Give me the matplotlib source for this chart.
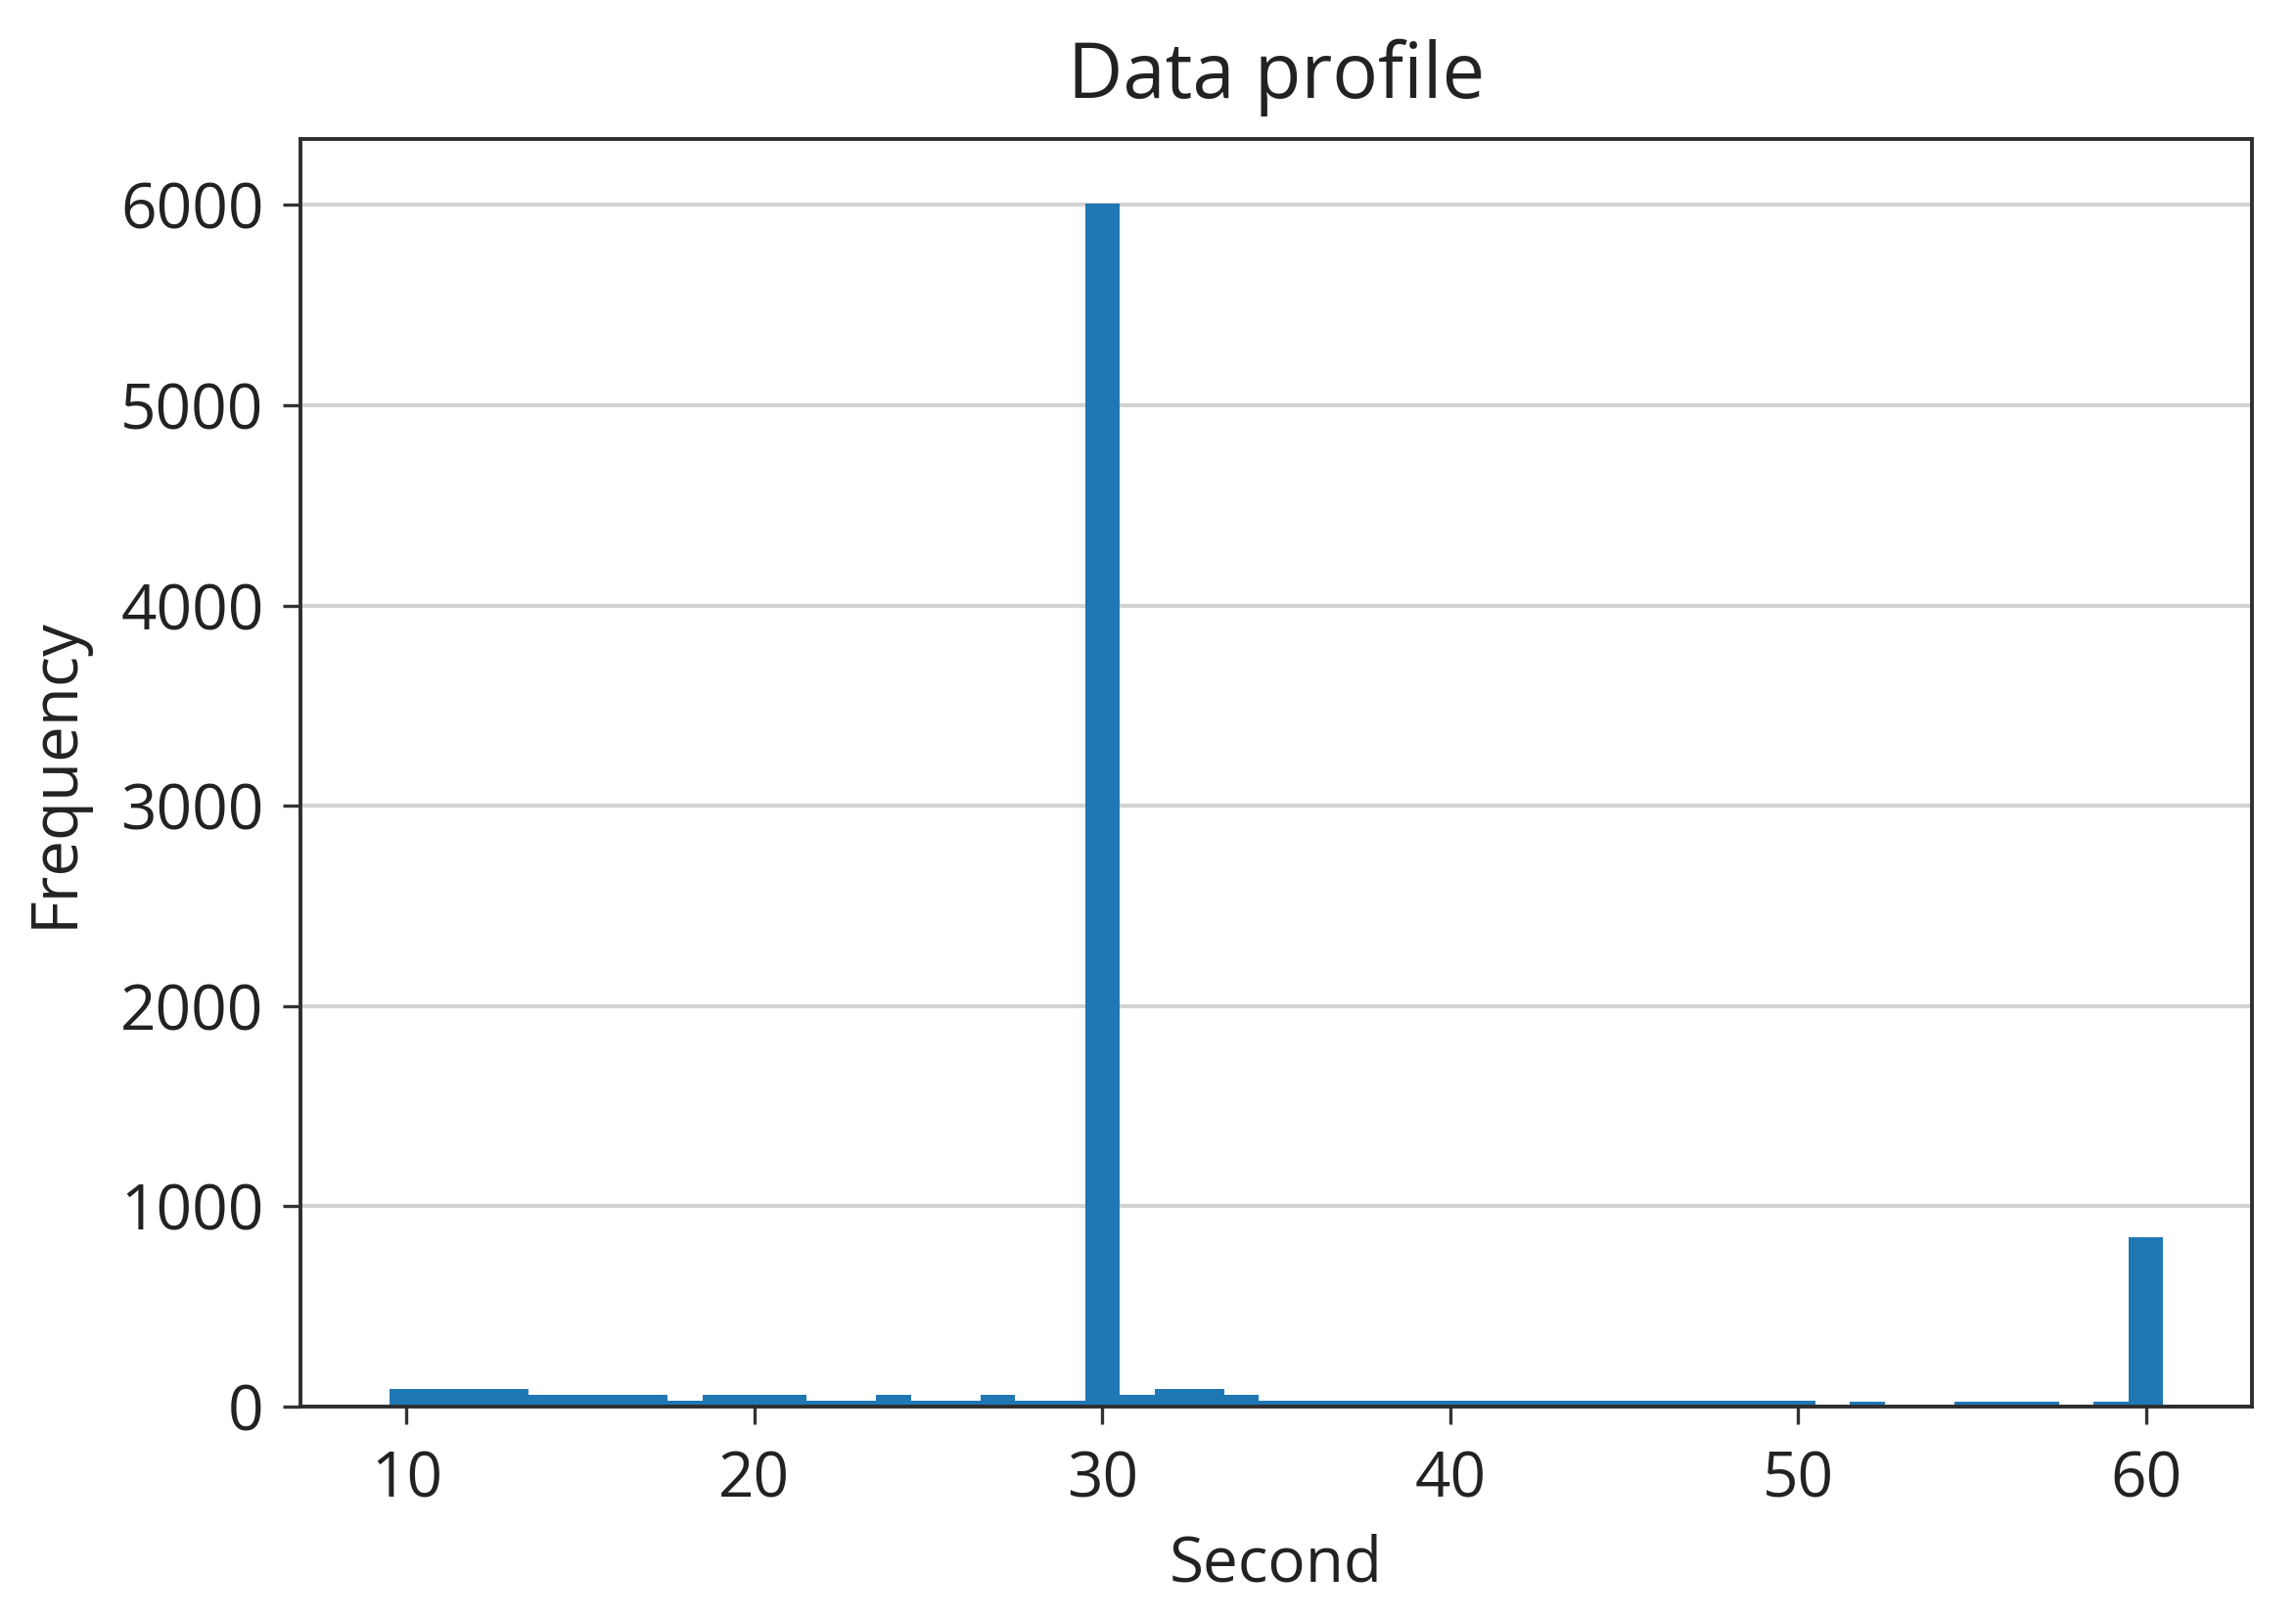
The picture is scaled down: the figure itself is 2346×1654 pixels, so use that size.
import matplotlib
matplotlib.use("Agg")
import matplotlib.pyplot as plt
import numpy as np

# Data (one bin per second)
seconds = list(range(10, 61))
counts = [88, 88, 88, 88, 60, 60, 60, 60, 30, 60,
          60, 60, 30, 30, 60, 30, 30, 60, 30, 30,
          6005, 60, 88, 88, 60, 30, 30, 30, 30, 30,
          30, 30, 30, 30, 30, 30, 30, 30, 30, 30,
          30, 0, 25, 0, 0, 25, 25, 25, 0, 25,
          845]
bin_edges = [s - 0.5 for s in seconds] + [seconds[-1] + 0.5]
y_ticks = [0, 1000, 2000, 3000, 4000, 5000, 6000]
x_ticks = [10, 20, 30, 40, 50, 60]

plt.rcParams['font.family'] = ['Open Sans', 'DejaVu Sans']

fig = plt.figure(figsize=(23.46, 16.54), dpi=100)
ax = fig.add_axes([0.1309, 0.1312, 0.8499, 0.7830])

ax.hist(seconds, bins=bin_edges, weights=counts, color='#1f77b4')

ax.set_axisbelow(True)
ax.yaxis.grid(True, color='#d3d3d3', linewidth=3.0)
ax.set_yticks(y_ticks)
ax.set_xticks(x_ticks)
ax.set_ylim(0, 6330)

for sp in ax.spines.values():
    sp.set_linewidth(2.8)
    sp.set_color('#2e2e2e')

ax.tick_params(axis='both', labelsize=46, length=13, width=2.4,
               color='#333333', labelcolor='#222222', pad=14)
ax.tick_params(axis='x', pad=18)

ax.set_title('Data profile', fontsize=56, color='#222222', pad=30)
ax.set_xlabel('Second', fontsize=46, color='#222222', labelpad=16)
ax.set_ylabel('Frequency', fontsize=47, color='#222222', labelpad=24)

fig.savefig('out.png', dpi=100)
